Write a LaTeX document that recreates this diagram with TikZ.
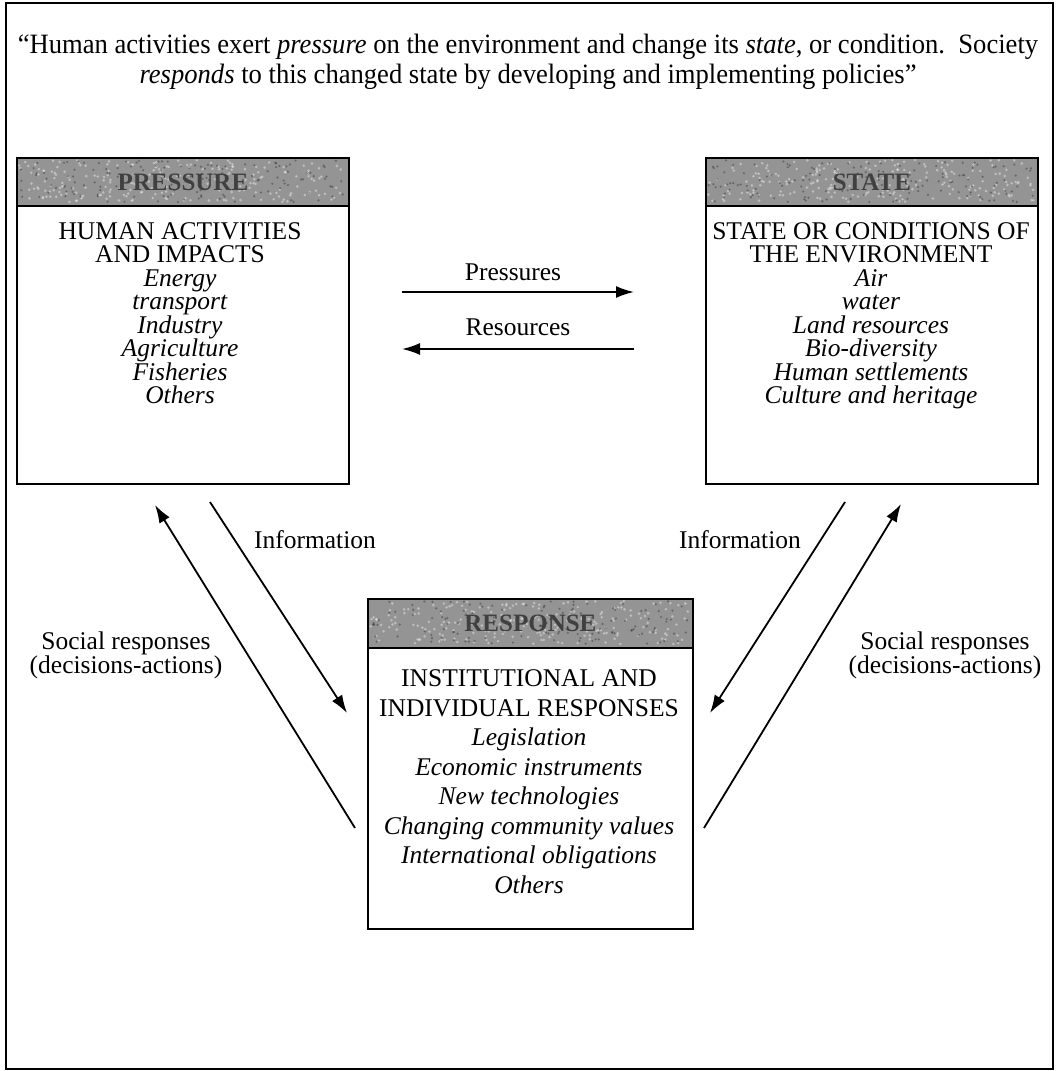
\documentclass[tikz,border=0pt]{standalone}
\usepackage{fontspec}
\setmainfont{Liberation Serif}
\newfontfamily\quotefont[FakeStretch=0.95]{Liberation Serif}
\usetikzlibrary{arrows.meta}
\begin{document}
\begin{tikzpicture}[x=1pt,y=-1pt,
  txt/.style={font=\fontsize{25.5}{23.5}\selectfont, align=center, inner sep=0pt},
  rtxt/.style={font=\fontsize{25.5}{29.5}\selectfont, align=center, inner sep=0pt},
  panel/.style={draw, line width=2.2pt, anchor=north west, inner sep=0pt},
  band/.style={draw, line width=1.8pt, fill=black!42, anchor=north west, inner sep=0pt},
  bandtitle/.style={font=\fontsize{25}{25}\selectfont\bfseries, text=black!75, inner sep=0pt},
  flow/.style={line width=1.8pt, -{Latex[length=18pt,width=12pt]}},
  lbl/.style={font=\fontsize{25.5}{24}\selectfont, align=center, inner sep=0pt}]

\useasboundingbox (0,0) rectangle (1055,1071);
\fill[white] (0,0) rectangle (1055,1071);

% outer frame
\node[draw, line width=2.2pt, anchor=north west, minimum width=1047pt, minimum height=1066pt, inner sep=0pt] (frame) at (5,2) {};

% quotation
\node[font=\quotefont\fontsize{28}{30}\selectfont, align=center, inner sep=0pt] (quote) at (528,62)
  {“Human activities exert \textit{pressure} on the environment and change its \textit{state}, or condition.\ \ Society\\
   \textit{responds} to this changed state by developing and implementing policies”};

% header bands
\node[band, minimum width=332pt, minimum height=48pt] (pband) at (16,157) {};
\node[band, minimum width=332pt, minimum height=48pt] (sband) at (705,157) {};
\node[band, minimum width=325pt, minimum height=49pt] (rband) at (367,598) {};

% speckle on the bands: x0, y0, width, height
\pgfmathsetseed{7}
\foreach \xo/\yo/\wd/\ht in {16/157/332/48, 705/157/332/48, 367/598/325/49}{
  \foreach \i in {1,...,220}{
    \pgfmathsetmacro{\px}{\xo+3+rnd*(\wd-6)}
    \pgfmathsetmacro{\py}{\yo+3+rnd*(\ht-6)}
    \fill[white, opacity=0.4] (\px,\py) circle (1.4pt);
  }
  \foreach \i in {1,...,150}{
    \pgfmathsetmacro{\px}{\xo+3+rnd*(\wd-6)}
    \pgfmathsetmacro{\py}{\yo+3+rnd*(\ht-6)}
    \fill[black, opacity=0.3] (\px,\py) circle (1.2pt);
  }
}

% panels
\node[panel, minimum width=332pt, minimum height=326pt] (pbox) at (16,157) {};
\node[panel, minimum width=332pt, minimum height=326pt] (sbox) at (705,157) {};
\node[panel, minimum width=325pt, minimum height=330pt] (rbox) at (367,598) {};

% band titles
\node[bandtitle] (ptitle) at (pband.center) {PRESSURE};
\node[bandtitle] (stitle) at (sband.center) {STATE};
\node[bandtitle] (rtitle) at (rband.center) {RESPONSE};

% panel contents
\node[txt, anchor=north] (ptext) at (180,222)
  {HUMAN ACTIVITIES\\AND IMPACTS\\\textit{Energy}\\\textit{transport}\\\textit{Industry}\\\textit{Agriculture}\\\textit{Fisheries}\\\textit{Others}};
\node[txt, anchor=north] (stext) at (871,222)
  {STATE OR CONDITIONS OF\\THE ENVIRONMENT\\\textit{Air}\\\textit{water}\\\textit{Land resources}\\\textit{Bio-diversity}\\\textit{Human settlements}\\\textit{Culture and heritage}};
\node[rtxt, anchor=north] (rtext) at (529,669.5)
  {INSTITUTIONAL AND\\INDIVIDUAL RESPONSES\\\textit{Legislation}\\\textit{Economic instruments}\\\textit{New technologies}\\\textit{Changing community values}\\\textit{International obligations}\\\textit{Others}};

% arrow end points
\coordinate (pr1) at (402,292);  \coordinate (pr2) at (634,292);
\coordinate (rs1) at (634,349);  \coordinate (rs2) at (402,349);
\coordinate (li1) at (210,502);  \coordinate (li2) at (347,713);
\coordinate (ls1) at (355,828);  \coordinate (ls2) at (155,505);
\coordinate (ri1) at (845,502);  \coordinate (ri2) at (710,713);
\coordinate (rs3) at (704,828);  \coordinate (rs4) at (901,504);

% connectors
\draw[flow] (pr1) -- (pr2);
\draw[flow] (rs1) -- (rs2);
\draw[flow] (li1) -- (li2);
\draw[flow] (ls1) -- (ls2);
\draw[flow] (ri1) -- (ri2);
\draw[flow] (rs3) -- (rs4);

% connector labels
\node[lbl] (lpress) at (513,272) {Pressures};
\node[lbl] (lres) at (518,327) {Resources};
\node[lbl] (linfo) at (315,540) {Information};
\node[lbl] (rinfo) at (740,540) {Information};
\node[lbl] (lsoc) at (126,655) {Social responses\\(decisions-actions)};
\node[lbl] (rsoc) at (945,655) {Social responses\\(decisions-actions)};
\end{tikzpicture}
\end{document}
